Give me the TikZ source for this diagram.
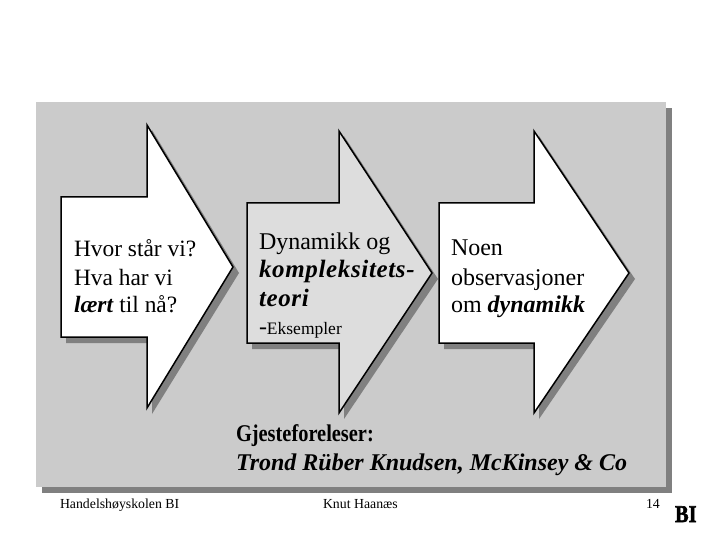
\documentclass[tikz,border=0pt]{standalone}
\usepackage{fontspec}
\setmainfont{Liberation Serif}
\newfontfamily\logofont[FakeBold=2.5]{Liberation Serif Bold}
\definecolor{panel}{HTML}{CBCBCB}
\definecolor{shade}{HTML}{808080}
\definecolor{midfill}{HTML}{DDDDDD}
\tikzset{
  x=1pt,y=-1pt,
  panelbox/.style={fill=panel,draw=none},
  shadebox/.style={fill=shade,draw=none},
  arrowbody/.style={draw=black,line width=1.5pt,miter limit=10,line join=miter},
  lbl/.style={anchor=base west,inner sep=0pt,outer sep=0pt,text=black},
  big/.style={lbl,font=\fontsize{24}{28}\selectfont},
  first/.style={lbl,font=\fontsize{23.4}{27}\selectfont},
  wide/.style={lbl,font=\fontsize{25}{28}\selectfont\bfseries\itshape\addfontfeature{LetterSpace=2.6}},
  foot/.style={lbl,font=\fontsize{13.8}{16}\selectfont},
}
\begin{document}
\begin{tikzpicture}
\useasboundingbox (0,0) rectangle (720,540);
\fill[white] (0,0) rectangle (720,540);
% panel
\path[shadebox] (42,108) rectangle (672,493);
\path[panelbox] (36,102) rectangle (666,487);
% arrow 1
\path[shadebox] (66,202) -- (152,202) -- (152,130) -- (239,273) -- (152,414) -- (152,343) -- (66,343) -- cycle;
\path[arrowbody,fill=white] (61,197) -- (147,197) -- (147,125) -- (233,267) -- (147,408) -- (147,337) -- (61,337) -- cycle;
% arrow 2
\path[shadebox] (252,208) -- (344,208) -- (344,136) -- (438,279) -- (344,419) -- (344,349) -- (252,349) -- cycle;
\path[arrowbody,fill=midfill] (247,203) -- (339,203) -- (339,131) -- (432,273) -- (339,413) -- (339,343) -- (247,343) -- cycle;
% arrow 3
\path[shadebox] (444,208) -- (539,208) -- (539,136) -- (635,279) -- (539,419) -- (539,349) -- (444,349) -- cycle;
\path[arrowbody,fill=white] (439,203) -- (534,203) -- (534,131) -- (629,273) -- (534,413) -- (534,343) -- (439,343) -- cycle;
% arrow texts
\node[first] (a1) at (74,256) {Hvor står vi?};
\node[first] (a2) at (74,285) {Hva har vi};
\node[first] (a3) at (74,312) {\textbf{\textit{lært}} til nå?};
\node[big] (b1) at (259,249) {Dynamikk og};
\node[wide] (b2) at (259,277) {kompleksitets-};
\node[wide] (b3) at (259,306) {teori};
\node[lbl,font=\fontsize{17.5}{20}\selectfont] (b4) at (259,334) {{\fontsize{24}{24}\selectfont -}Eksempler};
\node[big] (c1) at (451,255) {Noen};
\node[big] (c2) at (451,285) {observasjoner};
\node[big] (c3) at (451,312) {om \textbf{\textit{dynamikk}}};
% guest lecturer
\node[lbl,font=\fontsize{24}{28}\bfseries,xscale=0.85] (g1) at (236,441) {Gjesteforeleser:};
\node[lbl,font=\fontsize{24}{28}\bfseries\itshape] (g2) at (236,470) {Trond Rüber Knudsen, McKinsey \& Co};
% footer
\node[foot] (f1) at (60,508) {Handelshøyskolen BI};
\node[foot] (f2) at (323,508) {Knut Haanæs};
\node[foot] (f3) at (646,508) {14};
\node[lbl,font=\fontsize{24}{26}\logofont,xscale=0.85] (logo) at (675,522) {BI};
\end{tikzpicture}
\end{document}
